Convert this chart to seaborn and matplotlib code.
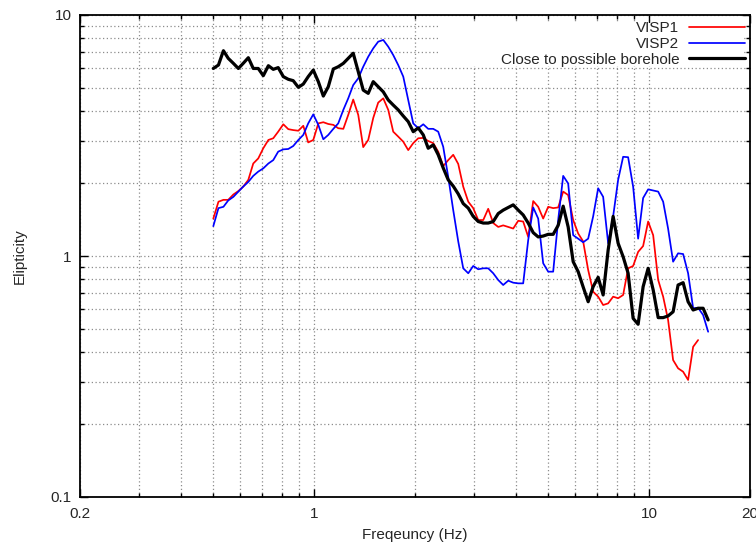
import matplotlib
matplotlib.use("Agg")
import matplotlib.pyplot as plt
from matplotlib.patches import Rectangle
from matplotlib.ticker import FixedLocator, FixedFormatter, NullFormatter
import pandas as pd
import seaborn as sns

# Frequency samples (Hz), log spaced from 0.5 to 15 Hz
freq = [0.500, 0.518, 0.536, 0.554, 0.574, 0.594, 0.614, 0.636, 0.658, 0.681,
        0.705, 0.730, 0.755, 0.781, 0.809, 0.837, 0.866, 0.897, 0.928, 0.960,
        0.994, 1.029, 1.065, 1.102, 1.141, 1.180, 1.222, 1.264, 1.308, 1.354,
        1.401, 1.450, 1.501, 1.553, 1.608, 1.664, 1.722, 1.782, 1.845, 1.909,
        1.976, 2.045, 2.117, 2.190, 2.267, 2.346, 2.428, 2.513, 2.601, 2.692,
        2.786, 2.884, 2.984, 3.089, 3.197, 3.308, 3.424, 3.544, 3.667, 3.796,
        3.928, 4.066, 4.207, 4.355, 4.507, 4.664, 4.827, 4.996, 5.170, 5.351,
        5.538, 5.731, 5.932, 6.139, 6.353, 6.576, 6.805, 7.043, 7.289, 7.544,
        7.807, 8.080, 8.362, 8.654, 8.957, 9.270, 9.594, 9.931, 10.28, 10.64,
        11.01, 11.39, 11.79, 12.20, 12.63, 13.07, 13.53, 14.00, 14.49, 15.00]

# H/V ellipticity curves
visp1 = [1.43, 1.68, 1.71, 1.71, 1.80, 1.86, 1.94, 2.07, 2.42, 2.54,
         2.80, 3.03, 3.08, 3.28, 3.52, 3.36, 3.33, 3.31, 3.47, 2.96,
         3.03, 3.55, 3.59, 3.53, 3.50, 3.39, 3.37, 3.85, 4.46, 3.85,
         2.83, 3.03, 3.74, 4.33, 4.51, 4.04, 3.28, 3.13, 2.98, 2.75,
         2.94, 3.08, 3.09, 3.00, 2.94, 2.71, 2.36, 2.50, 2.63, 2.41,
         1.94, 1.68, 1.58, 1.41, 1.41, 1.57, 1.37, 1.32, 1.34, 1.32,
         1.30, 1.40, 1.39, 1.20, 1.69, 1.60, 1.43, 1.60, 1.58, 1.59,
         1.85, 1.79, 1.41, 1.24, 1.15, 0.875, 0.711, 0.678, 0.626, 0.636,
         0.678, 0.668, 0.689, 0.889, 0.909, 1.04, 1.10, 1.39, 1.22, 0.795,
         0.678, 0.543, 0.370, 0.342, 0.331, 0.306, 0.420, 0.448]

visp2 = [1.33, 1.58, 1.60, 1.70, 1.76, 1.85, 1.94, 2.03, 2.15, 2.24,
         2.31, 2.42, 2.50, 2.71, 2.77, 2.78, 2.86, 3.03, 3.18, 3.55,
         3.87, 3.50, 3.05, 3.18, 3.37, 3.55, 4.04, 4.51, 5.12, 5.46,
         6.10, 6.71, 7.27, 7.75, 7.88, 7.39, 6.82, 6.20, 5.55, 4.44,
         3.55, 3.39, 3.52, 3.37, 3.37, 3.28, 2.84, 2.13, 1.55, 1.15,
         0.889, 0.848, 0.909, 0.881, 0.889, 0.889, 0.848, 0.795, 0.758, 0.790,
         0.775, 0.770, 0.770, 1.165, 1.59, 1.43, 0.933, 0.861, 0.861, 1.41,
         2.15, 2.00, 1.22, 1.18, 1.14, 1.18, 1.46, 1.91, 1.76, 1.13,
         1.46, 2.07, 2.58, 2.57, 1.94, 1.18, 1.74, 1.89, 1.87, 1.85,
         1.68, 1.30, 0.947, 1.026, 1.019, 0.848, 0.607, 0.610, 0.569, 0.485]

borehole = [6.00, 6.20, 7.11, 6.61, 6.30, 6.00, 6.30, 6.65, 6.00, 6.00,
            5.60, 6.16, 5.95, 6.05, 5.55, 5.41, 5.34, 5.01, 5.17, 5.55,
            5.91, 5.29, 4.61, 5.04, 5.97, 6.10, 6.30, 6.61, 6.94, 5.82,
            4.88, 4.73, 5.29, 5.04, 4.80, 4.44, 4.23, 4.04, 3.81, 3.61,
            3.28, 3.40, 3.18, 2.80, 2.89, 2.63, 2.32, 2.07, 1.95, 1.81,
            1.65, 1.58, 1.46, 1.39, 1.37, 1.37, 1.39, 1.50, 1.55, 1.59,
            1.63, 1.55, 1.48, 1.37, 1.25, 1.20, 1.21, 1.23, 1.23, 1.34,
            1.61, 1.32, 0.947, 0.861, 0.744, 0.646, 0.746, 0.816, 0.689, 1.059,
            1.46, 1.129, 0.993, 0.848, 0.551, 0.521, 0.746, 0.889, 0.723, 0.555,
            0.555, 0.564, 0.587, 0.758, 0.775, 0.646, 0.597, 0.607, 0.607, 0.543]

series_names = ["VISP1", "VISP2", "Close to possible borehole"]
series_values = [visp1, visp2, borehole]
series_colors = ["#ff0000", "#0000ff", "#000000"]
series_widths = [1.25, 1.25, 2.3]

x_major = [0.2, 1, 10, 20]
x_major_labels = ["0.2", "1", "10", "20"]
x_minor = [0.3, 0.4, 0.5, 0.6, 0.7, 0.8, 0.9, 2, 3, 4, 5, 6, 7, 8, 9]
y_major = [0.1, 1, 10]
y_major_labels = ["0.1", "1", "10"]
y_minor = [0.2, 0.3, 0.4, 0.5, 0.6, 0.7, 0.8, 0.9, 2, 3, 4, 5, 6, 7, 8, 9]

sns.set_theme(style="white")
plt.rcParams["font.family"] = ["Liberation Sans", "DejaVu Sans"]
plt.rcParams["font.size"] = 11

W, H = 756, 546
fig = plt.figure(figsize=(W / 100, H / 100), dpi=100)
ax = fig.add_axes([80 / W, 1 - 497 / H, 670 / W, 482 / H])

frames = []
for name, vals in zip(series_names, series_values):
    frames.append(pd.DataFrame({"Frequency": freq[:len(vals)],
                                "Ellipticity": vals,
                                "series": name}))
df = pd.concat(frames, ignore_index=True)

for name, color, lw in zip(series_names, series_colors, series_widths):
    sns.lineplot(data=df[df["series"] == name], x="Frequency", y="Ellipticity",
                 color=color, linewidth=lw, estimator=None, sort=False,
                 label=name, ax=ax, zorder=3)

ax.set_xscale("log")
ax.set_yscale("log")
ax.set_xlim(0.2, 20)
ax.set_ylim(0.1, 10)

ax.xaxis.set_major_locator(FixedLocator(x_major))
ax.xaxis.set_major_formatter(FixedFormatter(x_major_labels))
ax.xaxis.set_minor_locator(FixedLocator(x_minor))
ax.xaxis.set_minor_formatter(NullFormatter())
ax.yaxis.set_major_locator(FixedLocator(y_major))
ax.yaxis.set_major_formatter(FixedFormatter(y_major_labels))
ax.yaxis.set_minor_locator(FixedLocator(y_minor))
ax.yaxis.set_minor_formatter(NullFormatter())

ax.tick_params(which="both", direction="in", top=True, right=True,
               bottom=True, left=True, color="black", width=1.0)
ax.tick_params(which="major", length=6, labelsize=11)
ax.tick_params(axis="x", which="major", pad=7)
ax.tick_params(axis="y", which="major", pad=6)
ax.tick_params(which="minor", length=3)

ax.set_axisbelow(True)
ax.grid(which="both", color="#8c8c8c", linestyle=(0, (1.0, 2.0)), linewidth=0.9)

for sp in ax.spines.values():
    sp.set_color("black")
    sp.set_linewidth(1.3)

# white backing behind the key so the grid does not run through it
ax.add_patch(Rectangle((0.537, 0.894), 0.452, 0.09, transform=ax.transAxes,
                       facecolor="white", edgecolor="none", zorder=0.8))

ax.set_xlabel("Freqeuncy (Hz)", fontsize=11, labelpad=5)
ax.set_ylabel("Elipticity", fontsize=11, labelpad=17)

leg = ax.legend(loc="upper right", bbox_to_anchor=(1.002, 1.0), markerfirst=False,
                frameon=False, handlelength=3.7, handletextpad=0.6,
                labelspacing=0.12, borderaxespad=0.0, borderpad=0.4,
                fontsize=11)

fig.savefig("out.png", dpi=100)
